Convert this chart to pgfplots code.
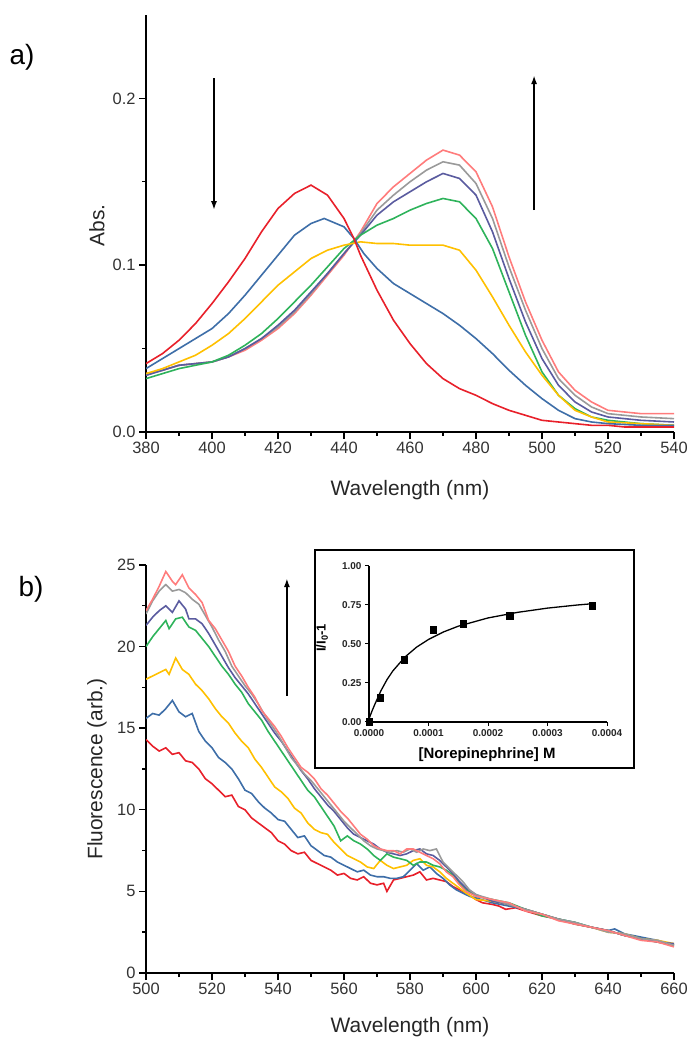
\documentclass[border=0pt]{standalone}
\usepackage{fontspec}
\setmainfont{Liberation Sans}
\usepackage{pgfplots}
\pgfplotsset{compat=1.18}
\usetikzlibrary{arrows.meta}
\definecolor{cRed}{HTML}{E8202A}
\definecolor{cBlue}{HTML}{3E6EA8}
\definecolor{cYel}{HTML}{FFC000}
\definecolor{cGrn}{HTML}{2EB35B}
\definecolor{cPur}{HTML}{5A5B9F}
\definecolor{cGry}{HTML}{9A9A9A}
\definecolor{cPnk}{HTML}{FF7C7C}
\pgfplotsset{
  specax/.style={
    scale only axis,
    axis x line*=bottom, axis y line*=left,
    axis line style={line width=1.8bp},
    tick style={line width=1.4bp, black},
    tick align=outside,
    major tick length=7bp, minor tick length=4bp,
    minor tick num=1,
    /pgf/number format/assume math mode=true,
    tick label style={font=\fontsize{16.5}{16.5}\selectfont, text=black!80},
    label style={font=\fontsize{21}{21}\selectfont, text=black!85},
    every axis plot/.append style={line width=1.6bp, no markers},
  }
}
\begin{document}
\begin{tikzpicture}
\useasboundingbox (0,0) rectangle (700bp,1050bp);
\node[font=\fontsize{28}{28}\selectfont] at (22bp,993bp) {a)};
\node[font=\fontsize{28}{28}\selectfont] at (31bp,461bp) {b)};
% ---------- panel a
\begin{axis}[specax,
  at={(146bp,618bp)}, anchor=south west,
  width=528bp, height=417bp,
  xmin=380, xmax=540, ymin=0, ymax=0.25,
  xtick={380,400,...,540},
  ytick={0,0.1,0.2},
  yticklabel style={/pgf/number format/.cd, fixed, fixed zerofill, precision=1},
  xlabel={Wavelength (nm)}, ylabel={Abs.},
  xlabel style={at={(axis description cs:0.5,-0.139)}, anchor=center},
  ylabel style={at={(axis description cs:-0.093,0.496)}, anchor=center},
]
\addplot[cPnk] coordinates {(380,0.035)(385,0.037)(390,0.040)(395,0.041)(400,0.042)(405,0.045)(410,0.049)(415,0.055)(420,0.062)(425,0.071)(430,0.082)(435,0.094)(440,0.106)(445,0.120)(450,0.137)(455,0.147)(460,0.155)(465,0.163)(470,0.169)(475,0.166)(480,0.156)(485,0.135)(490,0.105)(495,0.078)(500,0.055)(505,0.036)(510,0.025)(515,0.018)(520,0.013)(525,0.012)(530,0.011)(535,0.011)(540,0.011)};
\addplot[cGry] coordinates {(380,0.034)(385,0.037)(390,0.040)(395,0.041)(400,0.042)(405,0.045)(410,0.050)(415,0.056)(420,0.063)(425,0.072)(430,0.083)(435,0.095)(440,0.107)(445,0.119)(450,0.133)(455,0.142)(460,0.150)(465,0.157)(470,0.162)(475,0.160)(480,0.149)(485,0.128)(490,0.099)(495,0.073)(500,0.050)(505,0.032)(510,0.022)(515,0.015)(520,0.011)(530,0.009)(540,0.008)};
\addplot[cPur] coordinates {(380,0.034)(385,0.037)(390,0.040)(395,0.041)(400,0.042)(405,0.045)(410,0.050)(415,0.056)(420,0.064)(425,0.073)(430,0.084)(435,0.095)(440,0.107)(445,0.118)(450,0.130)(455,0.138)(460,0.144)(465,0.150)(470,0.155)(475,0.152)(480,0.142)(485,0.120)(490,0.092)(495,0.066)(500,0.044)(505,0.028)(510,0.018)(515,0.012)(520,0.009)(530,0.007)(540,0.006)};
\addplot[cGrn] coordinates {(380,0.032)(385,0.035)(390,0.038)(395,0.040)(400,0.042)(405,0.046)(410,0.052)(415,0.059)(420,0.068)(425,0.078)(430,0.088)(435,0.099)(440,0.110)(445,0.118)(450,0.124)(455,0.128)(460,0.133)(465,0.137)(470,0.140)(475,0.138)(480,0.128)(485,0.110)(490,0.084)(495,0.058)(500,0.036)(505,0.022)(510,0.014)(515,0.009)(520,0.007)(530,0.005)(540,0.004)};
\addplot[cYel] coordinates {(380,0.035)(385,0.038)(390,0.042)(395,0.046)(400,0.052)(405,0.059)(410,0.068)(415,0.078)(420,0.088)(425,0.096)(430,0.104)(435,0.109)(440,0.112)(445,0.114)(450,0.113)(455,0.113)(460,0.112)(465,0.112)(470,0.112)(475,0.109)(480,0.097)(485,0.081)(490,0.064)(495,0.048)(500,0.034)(505,0.022)(510,0.013)(515,0.009)(520,0.006)(530,0.005)(540,0.004)};
\addplot[cBlue] coordinates {(380,0.038)(385,0.044)(390,0.050)(395,0.056)(400,0.062)(405,0.071)(410,0.082)(415,0.094)(420,0.106)(425,0.118)(430,0.125)(434,0.128)(440,0.123)(443,0.116)(446,0.107)(450,0.098)(455,0.089)(460,0.083)(465,0.077)(470,0.071)(475,0.064)(480,0.056)(485,0.047)(490,0.037)(495,0.028)(500,0.020)(505,0.013)(510,0.008)(515,0.006)(520,0.005)(530,0.004)(540,0.004)};
\addplot[cRed] coordinates {(380,0.041)(385,0.047)(390,0.055)(395,0.065)(400,0.077)(405,0.090)(410,0.104)(415,0.120)(420,0.134)(425,0.143)(430,0.148)(435,0.142)(440,0.128)(443,0.116)(445,0.106)(450,0.085)(455,0.067)(460,0.053)(465,0.041)(470,0.032)(475,0.026)(480,0.022)(485,0.017)(490,0.013)(495,0.010)(500,0.007)(505,0.006)(510,0.005)(515,0.004)(520,0.004)(525,0.003)(530,0.003)(535,0.003)(540,0.003)};
\draw[line width=2bp, -{Latex[length=9bp,width=6bp]}] (axis cs:400.6,0.212) -- (axis cs:400.6,0.133);
\draw[line width=2bp, -{Latex[length=9bp,width=6bp]}] (axis cs:497.6,0.133) -- (axis cs:497.6,0.214);
\end{axis}
% ---------- panel b
\begin{axis}[specax,
  at={(146bp,77bp)}, anchor=south west,
  width=528bp, height=408bp,
  xmin=500, xmax=660, ymin=0, ymax=25,
  xtick={500,520,...,660},
  ytick={0,5,...,25},
  xlabel={Wavelength (nm)}, ylabel={Fluorescence (arb.)},
  xlabel style={at={(axis description cs:0.5,-0.132)}, anchor=center},
  ylabel style={at={(axis description cs:-0.093,0.5)}, anchor=center},
]
\addplot[cRed] coordinates {(500,14.3)(502,13.9)(504,13.6)(506,13.8)(508,13.4)(510,13.5)(512,13.0)(514,12.9)(516,12.5)(518,11.9)(520,11.6)(522,11.2)(524,10.8)(526,10.9)(528,10.2)(530,10.0)(532,9.5)(534,9.2)(536,8.9)(538,8.6)(540,8.1)(542,7.9)(544,7.5)(546,7.3)(548,7.4)(550,6.9)(552,6.7)(554,6.5)(556,6.3)(558,6.0)(560,6.1)(562,5.8)(564,5.7)(566,5.9)(568,5.5)(570,5.4)(572,5.5)(573,5.0)(575,5.7)(577,5.8)(579,5.9)(581,6.0)(583,6.2)(585,5.7)(587,5.8)(589,5.7)(591,5.6)(593,5.3)(595,5.1)(597,4.9)(600,4.5)(602,4.3)(605,4.2)(607,4.1)(609,3.9)(612,4.0)(615,3.8)(620,3.5)(625,3.3)(630,3.0)(635,2.8)(640,2.6)(645,2.3)(650,2.1)(655,1.9)(660,1.7)};
\addplot[cBlue] coordinates {(500,15.6)(502,15.9)(504,15.8)(506,16.2)(508,16.7)(510,16.0)(512,15.7)(514,15.9)(516,14.8)(518,14.2)(520,13.8)(522,13.2)(524,12.9)(526,12.5)(528,11.9)(530,11.2)(532,11.0)(534,10.5)(536,10.1)(538,9.8)(540,9.4)(542,9.3)(544,8.8)(546,8.3)(548,8.4)(550,7.8)(552,7.5)(554,7.2)(556,7.1)(558,6.8)(560,6.6)(562,6.4)(564,6.2)(566,6.3)(568,6.0)(570,5.9)(572,5.9)(574,5.8)(576,5.8)(578,5.9)(580,6.3)(582,6.7)(584,6.3)(586,6.5)(588,6.1)(590,5.8)(592,5.4)(594,5.1)(596,4.9)(598,4.7)(600,4.6)(605,4.3)(610,4.1)(615,3.9)(620,3.6)(625,3.3)(630,3.1)(635,2.8)(640,2.6)(642,2.7)(645,2.4)(650,2.2)(655,2.0)(660,1.7)};
\addplot[cYel] coordinates {(500,18.0)(502,18.2)(504,18.4)(506,18.6)(507,18.3)(509,19.3)(511,18.6)(513,18.3)(515,17.7)(517,17.3)(519,16.8)(521,16.2)(523,15.7)(525,15.3)(527,14.7)(529,14.2)(531,13.8)(533,13.1)(535,12.6)(537,12.0)(539,11.4)(541,11.1)(543,10.7)(545,10.1)(547,9.8)(549,9.2)(551,8.8)(553,8.6)(555,8.5)(557,8.0)(559,7.6)(561,7.2)(563,7.0)(565,6.8)(567,6.5)(569,6.4)(571,6.9)(573,6.6)(575,6.4)(577,6.5)(579,6.6)(581,6.9)(583,7.0)(585,6.6)(587,6.5)(589,6.2)(591,5.8)(593,5.5)(595,5.2)(597,4.9)(600,4.5)(605,4.4)(610,4.2)(615,3.9)(620,3.6)(625,3.3)(630,3.0)(635,2.8)(640,2.5)(645,2.4)(650,2.1)(655,2.0)(660,1.8)};
\addplot[cGrn] coordinates {(500,20.0)(502,20.6)(504,21.1)(506,21.6)(507,21.1)(509,21.7)(511,21.8)(513,21.2)(515,21.0)(517,20.5)(519,20.0)(521,19.4)(523,18.8)(525,18.3)(527,17.7)(529,17.2)(531,16.5)(533,16.0)(535,15.5)(537,14.8)(539,14.2)(541,13.6)(543,13.0)(545,12.4)(547,11.8)(549,11.2)(551,10.8)(553,10.2)(555,9.6)(557,9.0)(559,8.1)(561,8.4)(563,8.1)(565,7.9)(567,7.6)(569,7.2)(571,6.9)(573,7.3)(575,7.1)(577,7.0)(579,6.9)(581,6.6)(583,6.8)(585,6.8)(587,6.6)(589,6.5)(591,6.3)(593,6.0)(595,5.5)(597,5.1)(600,4.7)(605,4.5)(610,4.3)(615,3.9)(620,3.5)(625,3.3)(630,3.1)(635,2.8)(640,2.6)(645,2.3)(650,2.1)(655,1.9)(660,1.7)};
\addplot[cPur] coordinates {(500,21.3)(502,21.8)(504,22.2)(506,22.5)(508,22.1)(510,22.8)(512,22.3)(513,21.7)(515,21.7)(517,21.4)(519,20.8)(521,20.1)(523,19.4)(525,18.7)(527,18.1)(529,17.6)(531,17.1)(533,16.5)(535,15.9)(537,15.3)(539,14.7)(541,14.2)(543,13.6)(545,13.0)(547,12.4)(549,11.9)(551,11.3)(553,10.8)(555,10.3)(557,9.9)(559,9.4)(561,8.9)(563,8.5)(565,8.3)(567,8.1)(569,7.9)(571,7.6)(573,7.4)(575,7.3)(577,7.2)(579,7.3)(581,7.5)(583,7.6)(585,7.3)(587,7.2)(589,6.9)(591,6.5)(593,6.1)(595,5.6)(597,5.2)(600,4.8)(605,4.4)(610,4.2)(615,3.9)(620,3.6)(625,3.3)(630,3.0)(635,2.8)(640,2.6)(645,2.3)(650,2.1)(655,1.9)(660,1.8)};
\addplot[cGry] coordinates {(500,22.0)(502,22.8)(504,23.4)(506,23.8)(508,23.4)(510,23.5)(512,23.3)(514,22.9)(516,22.6)(518,21.9)(520,21.2)(522,20.4)(524,19.7)(526,18.8)(528,18.2)(530,17.6)(532,17.1)(534,16.5)(536,15.8)(538,15.2)(540,14.6)(542,13.9)(544,13.2)(546,12.7)(548,12.2)(550,11.8)(552,11.3)(554,10.8)(556,10.3)(558,9.8)(560,9.3)(562,8.9)(564,8.5)(566,8.1)(568,7.8)(570,7.6)(572,7.5)(574,7.4)(576,7.5)(578,7.4)(580,7.6)(582,7.4)(584,7.6)(586,7.5)(588,7.6)(590,6.8)(592,6.4)(594,6.0)(596,5.6)(598,5.1)(600,4.8)(605,4.5)(610,4.2)(615,3.9)(620,3.6)(625,3.3)(630,3.1)(635,2.8)(640,2.5)(645,2.4)(650,2.1)(655,2.0)(660,1.7)};
\addplot[cPnk] coordinates {(500,22.2)(502,22.9)(504,23.7)(506,24.6)(508,24.0)(509,23.8)(511,24.4)(513,23.6)(515,23.2)(517,22.7)(519,21.6)(521,21.1)(523,20.4)(525,19.7)(527,18.8)(529,18.2)(531,17.5)(533,16.9)(535,16.1)(537,15.6)(539,15.1)(541,14.5)(543,13.8)(545,13.2)(547,12.6)(549,12.3)(551,11.9)(553,11.3)(555,10.9)(557,10.4)(559,9.9)(561,9.5)(563,9.0)(565,8.5)(567,8.2)(569,7.8)(571,7.6)(573,7.5)(575,7.5)(577,7.3)(579,7.6)(581,7.6)(583,7.4)(585,7.2)(587,7.0)(589,6.7)(591,6.2)(593,5.9)(595,5.4)(597,5.0)(600,4.7)(605,4.5)(610,4.3)(615,3.8)(620,3.6)(625,3.2)(630,3.0)(635,2.8)(640,2.6)(645,2.3)(650,2.0)(655,1.9)(660,1.6)};
\draw[line width=2bp, -{Latex[length=9bp,width=6bp]}] (axis cs:542.7,17.0) -- (axis cs:542.7,24.2);
\end{axis}
% ---------- inset
\draw[line width=1.6bp, fill=white] (315bp,282bp) rectangle (634bp,500bp);
\begin{axis}[
  at={(369bp,328bp)}, anchor=south west,
  width=238bp, height=156bp, scale only axis,
  axis x line*=bottom, axis y line*=left,
  axis line style={line width=1.3bp},
  tick style={line width=1bp, black},
  tick align=outside, major tick length=4bp,
  xmin=0, xmax=0.0004, ymin=0, ymax=1,
  clip=false,
  xtick={0,0.0001,0.0002,0.0003,0.0004},
  xticklabels={0.0000,0.0001,0.0002,0.0003,0.0004},
  scaled x ticks=false,
  ytick={0,0.25,0.5,0.75,1},
  yticklabels={0.00,0.25,0.50,0.75,1.00},
  tick label style={font=\fontsize{10}{10}\selectfont\bfseries, text=black!85},
  xlabel={[Norepinephrine] M},
  ylabel={I/I\textsubscript{0}-1},
  label style={font=\fontsize{15}{15}\selectfont\bfseries},
  xlabel style={at={(axis description cs:0.496,-0.21)}, anchor=center},
  ylabel style={at={(axis description cs:-0.197,0.54)}, anchor=center, font=\fontsize{13}{13}\selectfont\bfseries},
]
\addplot[black, line width=1.3bp, no markers] coordinates {(0,0.02)(0.000005,0.07)(0.00001,0.115)(0.00002,0.2)(0.00003,0.27)(0.00004,0.327)(0.00006,0.415)(0.00008,0.48)(0.0001,0.529)(0.000125,0.577)(0.00015,0.614)(0.0002,0.667)(0.00025,0.703)(0.0003,0.730)(0.00035,0.750)(0.000375,0.758)};
\addplot[only marks, mark=square*, mark size=3.3bp, black] coordinates {(0,0)(0.0000185,0.157)(0.0000589,0.398)(0.000108,0.591)(0.000158,0.63)(0.000236,0.683)(0.000375,0.745)};
\end{axis}
\end{tikzpicture}
\end{document}
